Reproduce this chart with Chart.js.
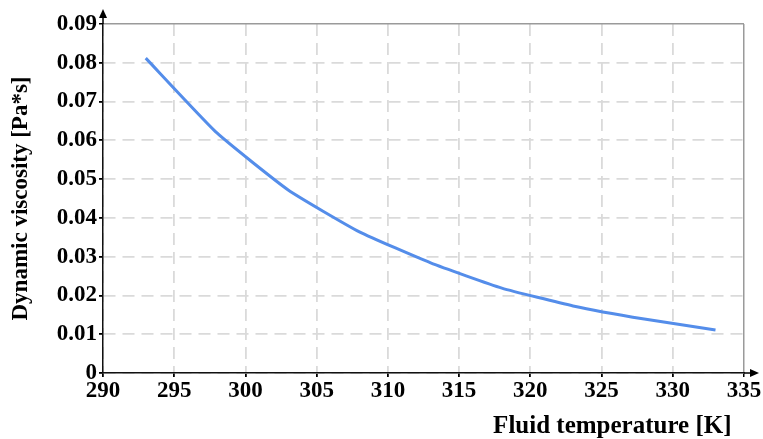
<!DOCTYPE html>
<html>
<head>
<meta charset="utf-8">
<script src="https://cdn.jsdelivr.net/npm/chart.js@4.4.0/dist/chart.umd.min.js"></script>
<style>
  html, body { margin: 0; padding: 0; background: #fff; }
  #wrap { width: 763px; height: 439px; }
</style>
</head>
<body>
<div id="wrap"><canvas id="viscChart"></canvas></div>
<script>
// temperature [K] and dynamic viscosity [Pa*s]
const temperatures = [293, 298, 303, 308, 313, 318, 323, 328, 333];
const viscosity = [0.0812, 0.0619, 0.0472, 0.0364, 0.0284, 0.0219, 0.0173, 0.0139, 0.0111];

const xMin = 290, xMax = 335, xStep = 5;
const yMin = 0, yMax = 0.09, yStep = 0.01;

const serif = "'Liberation Serif', 'DejaVu Serif', serif";

// grid: dashed light grey, the outer (max) line solid grey
const isMax = (ctx) => ctx.tick && ctx.tick.value >= ctx.scale.max - 1e-9;
const gridColor = (ctx) => isMax(ctx) ? "#9a9a9a" : "#dadada";
const gridWidth = (ctx) => isMax(ctx) ? 1.5 : 1.8;
const gridDash = (ctx) => isMax(ctx) ? [] : [12, 7];

// arrow heads at the ends of both axes
const axisArrows = {
  id: "axisArrows",
  afterDraw(chart) {
    const { ctx, scales: { x, y } } = chart;
    ctx.save();
    ctx.strokeStyle = "#000";
    ctx.fillStyle = "#000";
    ctx.lineWidth = 1.5;
    ctx.beginPath();
    ctx.moveTo(x.left, y.top);
    ctx.lineTo(x.left, y.top - 8);
    ctx.moveTo(x.right, y.bottom);
    ctx.lineTo(x.right + 8, y.bottom);
    ctx.stroke();
    ctx.beginPath();
    ctx.moveTo(x.left, y.top - 15);
    ctx.lineTo(x.left - 4, y.top - 6);
    ctx.lineTo(x.left + 4, y.top - 6);
    ctx.closePath();
    ctx.fill();
    ctx.beginPath();
    ctx.moveTo(x.right + 15, y.bottom);
    ctx.lineTo(x.right + 6, y.bottom - 4);
    ctx.lineTo(x.right + 6, y.bottom + 4);
    ctx.closePath();
    ctx.fill();
    ctx.restore();
  }
};

new Chart(document.getElementById("viscChart"), {
  type: "line",
  data: {
    datasets: [{
      data: temperatures.map((t, i) => ({ x: t, y: viscosity[i] })),
      borderColor: "rgb(84, 141, 234)",
      borderWidth: 3,
      pointRadius: 0,
      tension: 0.15,
      fill: false
    }]
  },
  options: {
    responsive: true,
    maintainAspectRatio: false,
    animation: false,
    layout: { padding: { top: 24, right: 19, left: 0, bottom: 0 } },
    plugins: { legend: { display: false }, tooltip: { enabled: false } },
    scales: {
      x: {
        type: "linear",
        min: xMin,
        max: xMax,
        afterFit: (s) => { s.height = 66; },
        ticks: {
          stepSize: xStep,
          color: "#000",
          padding: 0,
          maxRotation: 0,
          font: { family: serif, size: 23, weight: "bold" }
        },
        grid: { color: gridColor, lineWidth: gridWidth, tickColor: "#000", tickLength: 4 },
        border: { color: "#111", width: 1.5, dash: gridDash },
        title: {
          display: true,
          text: "Fluid temperature [K]  ",
          align: "end",
          color: "#000",
          padding: { top: 2, bottom: -3 },
          font: { family: serif, size: 25, weight: "bold" }
        }
      },
      y: {
        min: yMin,
        max: yMax,
        afterFit: (s) => { s.width = 103; },
        ticks: {
          stepSize: yStep,
          color: "#000",
          padding: 2,
          font: { family: serif, size: 23, weight: "bold" },
          callback: (v) => v === 0 ? "0" : v.toFixed(2)
        },
        grid: { color: gridColor, lineWidth: gridWidth, tickColor: "#000", tickLength: 4 },
        border: { color: "#111", width: 1.5, dash: gridDash },
        title: {
          display: true,
          text: "Dynamic viscosity [Pa*s]",
          color: "#000",
          padding: { top: 7, bottom: 0 },
          font: { family: serif, size: 23, weight: "bold" }
        }
      }
    }
  },
  plugins: [axisArrows]
});
</script>
</body>
</html>
